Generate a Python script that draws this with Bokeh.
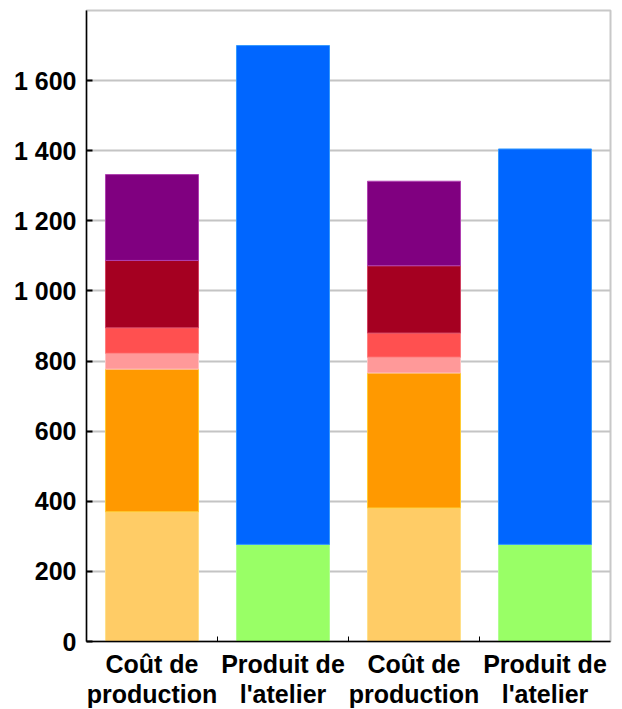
from bokeh.plotting import figure
from bokeh.models import FixedTicker, ColumnDataSource
from bokeh.embed import file_html
from bokeh.resources import INLINE

# Data
categories = ["Coût de\nproduction", "Produit de\nl'atelier", "Coût de\nproduction", "Produit de\nl'atelier"]
x_pos = [1, 2, 3, 4]
seg_a = [370, 0, 381, 0]      # light orange
seg_b = [407, 0, 385, 0]      # orange
seg_c = [45, 0, 45, 0]        # light pink
seg_d = [73, 0, 69, 0]        # salmon
seg_e = [192, 0, 192, 0]      # dark red
seg_f = [245, 0, 241, 0]      # purple
seg_g = [0, 277, 0, 277]      # green
seg_h = [0, 1423, 0, 1128]    # blue
y_ticks = [0, 200, 400, 600, 800, 1000, 1200, 1400, 1600]
y_tick_labels = ["0", "200", "400", "600", "800", "1 000", "1 200", "1 400", "1 600"]

cost_idx = [0, 2]
prod_idx = [1, 3]

def pick(arr, idx):
    return [arr[i] for i in idx]

cost_src = ColumnDataSource(dict(x=pick(x_pos, cost_idx), a=pick(seg_a, cost_idx), b=pick(seg_b, cost_idx),
                                 c=pick(seg_c, cost_idx), d=pick(seg_d, cost_idx), e=pick(seg_e, cost_idx),
                                 f=pick(seg_f, cost_idx)))
prod_src = ColumnDataSource(dict(x=pick(x_pos, prod_idx), g=pick(seg_g, prod_idx), h=pick(seg_h, prod_idx)))

cost_fills = ["#FFCC66", "#FF9900", "#FF9999", "#FF5050", "#A50021", "#800080"]
cost_lines = ["#FFE08A", "#FFCC33", "#FFC0C0", "#FF8080", "#D04060", "#B040B0"]
prod_fills = ["#99FF66", "#0066FF"]
prod_lines = ["#B0FF90", "#3399FF"]

p = figure(frame_width=524, frame_height=631, x_range=(0.5, 4.5), y_range=(0, 1800),
           output_backend="svg", toolbar_location=None,
           min_border_left=86, min_border_top=10, min_border_right=10, min_border_bottom=68)

p.vbar_stack(["a", "b", "c", "d", "e", "f"], x="x", width=0.71, source=cost_src,
             fill_color=cost_fills, line_color=cost_lines, line_width=1)
p.vbar_stack(["g", "h"], x="x", width=0.71, source=prod_src,
             fill_color=prod_fills, line_color=prod_lines, line_width=1)

p.xgrid.grid_line_color = None
p.ygrid.grid_line_color = "#C4C4C4"
p.ygrid.grid_line_width = 2
p.ygrid.ticker = FixedTicker(ticks=y_ticks)
p.outline_line_color = "#C8C8C8"
p.outline_line_width = 2

yax = p.yaxis[0]
yax.ticker = FixedTicker(ticks=y_ticks)
yax.major_label_overrides = {t: l for t, l in zip(y_ticks, y_tick_labels)}
yax.major_tick_in = 6
yax.major_tick_out = 0
yax.minor_tick_line_color = None
yax.axis_line_color = "black"
yax.axis_line_width = 1.5
yax.major_tick_line_width = 2
yax.major_label_text_font = "Liberation Sans"
yax.major_label_text_font_style = "bold"
yax.major_label_text_font_size = "25px"
yax.major_label_standoff = 10
yax.major_label_text_color = "black"

xax = p.xaxis[0]
xax.ticker = FixedTicker(ticks=x_pos, minor_ticks=[1.5, 2.5, 3.5])
xax.major_label_overrides = {t: l for t, l in zip(x_pos, categories)}
xax.major_tick_in = 0
xax.major_tick_out = 0
xax.minor_tick_in = 5
xax.minor_tick_out = 0
xax.minor_tick_line_color = "black"
xax.axis_line_color = "black"
xax.axis_line_width = 1.5
xax.major_label_text_font = "Liberation Sans"
xax.major_label_text_font_style = "bold"
xax.major_label_text_font_size = "25px"
xax.major_label_standoff = 8
xax.major_label_text_color = "black"
xax.major_label_text_line_height = 1.1

p.background_fill_color = "white"
p.border_fill_color = "white"

open("out.html", "w").write(file_html(p, INLINE))
